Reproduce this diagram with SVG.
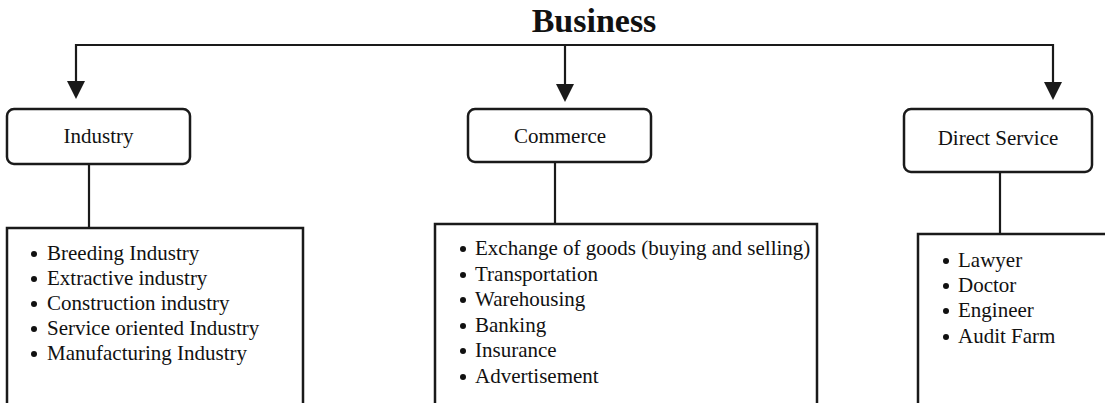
<svg xmlns="http://www.w3.org/2000/svg" width="1105" height="403" viewBox="0 0 1105 403">
<style>
.t{font-family:"Liberation Serif","Times New Roman",serif;font-size:21px;fill:#111}
.title{font-family:"Liberation Serif","Times New Roman",serif;font-size:34px;font-weight:bold;fill:#111}
.box{fill:#fff;stroke:#1a1a1a;stroke-width:2.5}
.list{fill:none;stroke:#1a1a1a;stroke-width:2.5}
.ln{fill:none;stroke:#1a1a1a;stroke-width:2.2}
.b{fill:#111}
</style>
<defs>
<marker id="arr" markerUnits="userSpaceOnUse" markerWidth="18" markerHeight="18" viewBox="0 0 18 18" refX="15" refY="9" orient="auto">
<path d="M0,0 L18,9 L0,18 z" fill="#1a1a1a"/>
</marker>
</defs>
<text class="title" x="594" y="32" text-anchor="middle">Business</text>
<g id="connectors">
<path class="ln" d="M76,45 H1053"/>
<path class="ln" d="M76,44 V96" marker-end="url(#arr)"/>
<path class="ln" d="M565,45 V99" marker-end="url(#arr)"/>
<path class="ln" d="M1053,44 V97" marker-end="url(#arr)"/>
<path class="ln" d="M89,164 V228"/>
<path class="ln" d="M555,162 V224"/>
<path class="ln" d="M1000,172 V234"/>
</g>
<g id="industry">
<rect class="box" x="7" y="109" width="183" height="55" rx="7"/>
<text class="t" x="98.5" y="143" text-anchor="middle">Industry</text>
</g>
<g id="commerce">
<rect class="box" x="468" y="109" width="183" height="53" rx="7"/>
<text class="t" x="560" y="143" text-anchor="middle">Commerce</text>
</g>
<g id="direct-service">
<rect class="box" x="904" y="109" width="188" height="63" rx="7"/>
<text class="t" x="998" y="145" text-anchor="middle">Direct Service</text>
</g>
<g id="industry-list">
<path class="list" d="M7,404 V228 H303 V404"/>
<circle class="b" cx="34" cy="254" r="3"/>
<circle class="b" cx="34" cy="279" r="3"/>
<circle class="b" cx="34" cy="304" r="3"/>
<circle class="b" cx="34" cy="329" r="3"/>
<circle class="b" cx="34" cy="354" r="3"/>
<text class="t" x="47" y="260">Breeding Industry</text>
<text class="t" x="47" y="285">Extractive industry</text>
<text class="t" x="47" y="310">Construction industry</text>
<text class="t" x="47" y="335">Service oriented Industry</text>
<text class="t" x="47" y="360">Manufacturing Industry</text>
</g>
<g id="commerce-list">
<path class="list" d="M435,404 V224 H817 V404"/>
<circle class="b" cx="463" cy="249" r="3"/>
<circle class="b" cx="463" cy="275" r="3"/>
<circle class="b" cx="463" cy="300" r="3"/>
<circle class="b" cx="463" cy="326" r="3"/>
<circle class="b" cx="463" cy="351" r="3"/>
<circle class="b" cx="463" cy="377" r="3"/>
<text class="t" x="475" y="255">Exchange of goods (buying and selling)</text>
<text class="t" x="475" y="281">Transportation</text>
<text class="t" x="475" y="306">Warehousing</text>
<text class="t" x="475" y="332">Banking</text>
<text class="t" x="475" y="357">Insurance</text>
<text class="t" x="475" y="383">Advertisement</text>
</g>
<g id="direct-list">
<path class="list" d="M918,404 V234 H1108"/>
<circle class="b" cx="946" cy="261" r="3"/>
<circle class="b" cx="946" cy="286" r="3"/>
<circle class="b" cx="946" cy="311" r="3"/>
<circle class="b" cx="946" cy="337" r="3"/>
<text class="t" x="958" y="267">Lawyer</text>
<text class="t" x="958" y="292">Doctor</text>
<text class="t" x="958" y="317">Engineer</text>
<text class="t" x="958" y="343">Audit Farm</text>
</g>
</svg>
